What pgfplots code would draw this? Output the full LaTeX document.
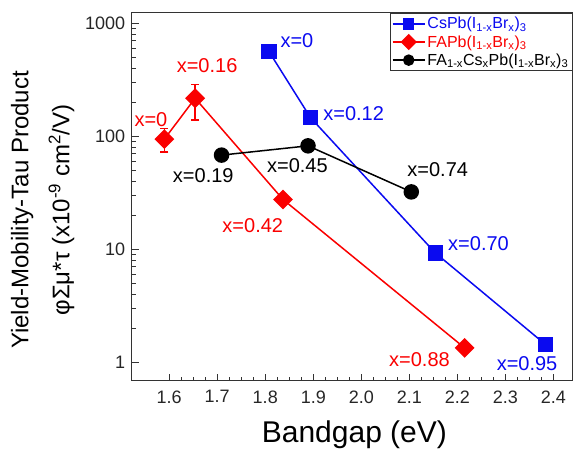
\documentclass[border=0pt]{standalone}
\usepackage{pgfplots}
\pgfplotsset{compat=1.18}
\usepackage{fontspec}
\setmainfont{Liberation Sans}
\definecolor{cblue}{RGB}{10,10,240}
\definecolor{cred}{RGB}{250,0,0}
\newcommand\sub[1]{\textsubscript{#1}}
\begin{document}
\begin{tikzpicture}
\begin{axis}[
  scale only axis,
  width=441pt, height=368pt,
  ymode=log,
  xmin=1.522, xmax=2.44,
  ymin=0.683, ymax=1226,
  xtick={1.6,1.7,...,2.41},
  minor x tick num=3,
  ytick={1,10,100,1000},
  yticklabels={1,10,100,1000},
  xtick pos=bottom, ytick pos=left,
  tick align=inside,
  major tick length=7pt, minor tick length=4pt,
  /pgf/number format/assume math mode=true,
  xticklabel style={/pgf/number format/.cd, fixed, fixed zerofill, precision=1, /tikz/yshift=-6pt},
  yticklabel style={xshift=-3pt},
  tick label style={font=\fontsize{18}{20}\selectfont, color=black!85},
  axis line style={line width=1pt, black!80},
  every tick/.style={black!80, line width=0.8pt},
  xlabel={Bandgap (eV)},
  xlabel style={font=\fontsize{30}{32}\selectfont, at={(axis description cs:0.505,-0.146)}, anchor=center},
  ylabel={Yield-Mobility-Tau Product\\φΣμ*τ (x10\textsuperscript{-9} cm\textsuperscript{2}/V)},
  ylabel style={font=\fontsize{24}{41}\selectfont, align=center, at={(axis description cs:-0.202,0.465)}, anchor=center},
  legend style={at={(rel axis cs:1,1)}, anchor=north east, draw=black!80, line width=0.8pt,
    font=\fontsize{16}{18}\selectfont, row sep=1pt, inner sep=2pt},
  legend cell align=left,
  legend image code/.code={\draw[mark repeat=2,mark phase=2,#1] plot coordinates {(0pt,0pt)(16pt,0pt)(32pt,0pt)};},
  legend image post style={mark size=5pt},
]
% CsPb(I1-xBrx)3
\addplot[cblue, line width=1.5pt, mark=square*, mark size=7pt, mark options={solid}]
  coordinates {(1.808,557) (1.894,146) (2.154,9.27) (2.383,1.44)};
\addlegendentry{\textcolor{cblue}{CsPb(I\sub{1-x}Br\sub{x})\sub{3}}}
% FAPb(I1-xBrx)3
\addplot[cred, line width=1.5pt, mark=square*, mark size=6.3pt, mark options={solid, rotate=45},
  error bars/.cd, y dir=both, y explicit, error mark options={rotate=90, mark size=4pt, line width=1.5pt, cred},
  error bar style={line width=1.5pt}]
  coordinates {(1.59,94) += (0,23) -= (0,21.4)
               (1.654,216) += (0,71) -= (0,77)
               (1.837,27.5) (2.215,1.34)};
\addlegendentry{\textcolor{cred}{FAPb(I\sub{1-x}Br\sub{x})\sub{3}}}
% FA1-xCsxPb(I1-xBrx)3
\addplot[black, line width=1.5pt, mark=*, mark size=7pt, mark options={solid}]
  coordinates {(1.709,67.9) (1.889,82) (2.104,32.1)};
\addlegendentry{FA\sub{1-x}Cs\sub{x}Pb(I\sub{1-x}Br\sub{x})\sub{3}}
% annotations
\begin{scope}[font=\fontsize{20}{22}\selectfont]
\node[cblue] at (axis cs:1.866,697) {x=0};
\node[cblue] at (axis cs:1.984,157) {x=0.12};
\node[cblue] at (axis cs:2.244,11.3) {x=0.70};
\node[cblue] at (axis cs:2.345,0.966) {x=0.95};
\node[cred] at (axis cs:1.562,141) {x=0};
\node[cred] at (axis cs:1.679,423) {x=0.16};
\node[cred] at (axis cs:1.774,16.1) {x=0.42};
\node[cred] at (axis cs:2.121,1.06) {x=0.88};
\node[black] at (axis cs:1.671,44.5) {x=0.19};
\node[black] at (axis cs:1.867,55.2) {x=0.45};
\node[black] at (axis cs:2.159,50.3) {x=0.74};
\end{scope}
\end{axis}
\pgfresetboundingbox
\useasboundingbox (-131.7pt,-73pt) rectangle (443.3pt,381pt);
\end{tikzpicture}
\end{document}
